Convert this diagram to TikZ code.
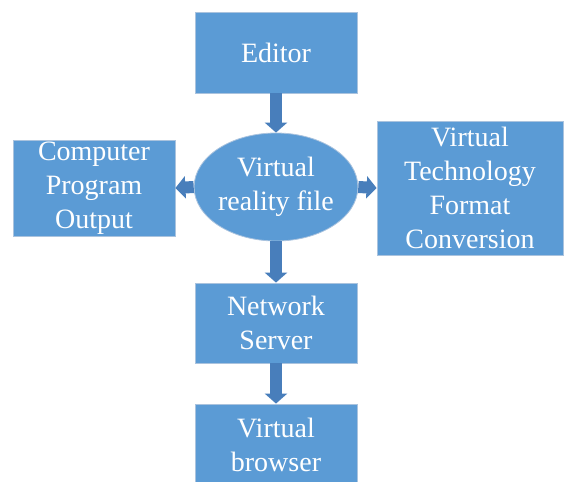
\documentclass[tikz,border=0pt]{standalone}
\usepackage{fontspec}
\setmainfont{Liberation Serif}
\usetikzlibrary{shapes.geometric,arrows.meta}

\definecolor{boxblue}{RGB}{91,155,213}
\definecolor{boxedge}{RGB}{170,195,222}
\definecolor{arrowblue}{RGB}{72,126,187}

\tikzset{
  blockbox/.style={rectangle, fill=boxblue, draw=boxedge, line width=0.8pt,
    text=white, align=center, inner sep=0pt,
    font=\fontsize{28}{34}\selectfont},
  filebox/.style={blockbox, ellipse},
  blockarrow/.style={draw=arrowblue, line width=12pt,
    -{Triangle[width=22pt,length=10pt]}, fill=arrowblue}
}

\begin{document}
\begin{tikzpicture}[x=1pt,y=-1pt]
\useasboundingbox (0,0) rectangle (566,482);

\node[blockbox, minimum width=162, minimum height=81] (editor) at (276,52.5) {Editor};

\node[filebox, minimum width=161, minimum height=108] (vrfile) at (276,187) {Virtual\\reality file};

\node[blockbox, minimum width=162, minimum height=96] (output) at (94,188) {Computer\\Program\\Output};

\node[blockbox, minimum width=186, minimum height=134] (convert) at (470,188) {Virtual\\Technology\\Format\\Conversion};

\node[blockbox, minimum width=162, minimum height=80] (server) at (276,323) {Network\\Server};

\node[blockbox, minimum width=162, minimum height=82] (browser) at (276,445) {Virtual\\browser};

\draw[blockarrow] (editor.south) -- (vrfile.north);
\draw[blockarrow] (vrfile.west) -- (output.east);
\draw[blockarrow] (vrfile.east) -- (convert.west);
\draw[blockarrow] (vrfile.south) -- (server.north);
\draw[blockarrow] (server.south) -- (browser.north);
\end{tikzpicture}
\end{document}
